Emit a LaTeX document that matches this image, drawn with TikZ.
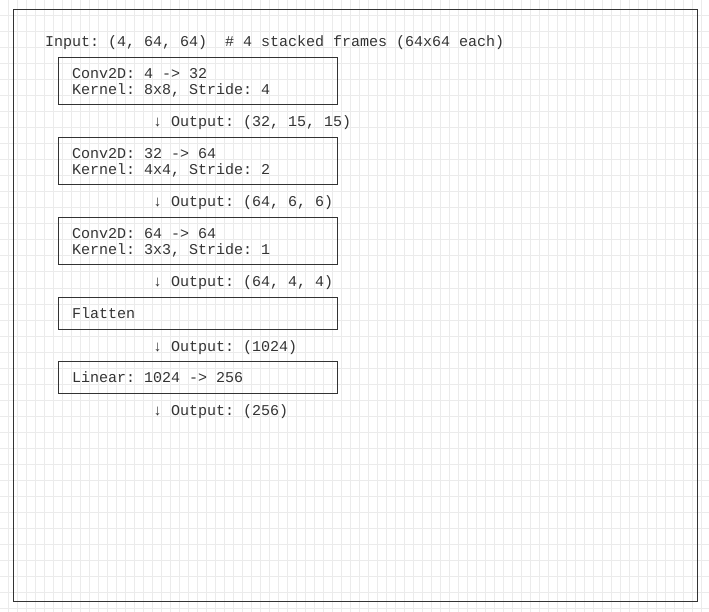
\documentclass[tikz,border=0pt]{standalone}
\usepackage{fontspec}
\setmainfont{Liberation Mono}
\definecolor{gridc}{HTML}{EBEBEB}
\definecolor{ink}{HTML}{333333}
\begin{document}
\frenchspacing
\begin{tikzpicture}[x=1pt,y=-1pt,
  txt/.style={anchor=base west,inner sep=0pt,outer sep=0pt,text=ink,font=\fontsize{15}{16}\selectfont\frenchspacing},
  layerbox/.style={draw=ink,line width=1pt,minimum width=279pt,inner sep=0pt,outer sep=0pt,anchor=north west},
  twoline/.style={layerbox,minimum height=47.5pt},
  oneline/.style={layerbox,minimum height=32pt}]
\useasboundingbox (0,0) rectangle (709,612);
\fill[white] (0,0) rectangle (709,612);
% grid
\foreach \k in {0,...,77} \draw[gridc,line width=1pt] (8.5+9*\k,0) -- (8.5+9*\k,612);
\foreach \k in {0,...,38} \draw[gridc,line width=1pt] (0,16*\k) -- (709,16*\k);
% frame
\node[draw=ink,line width=1pt,minimum width=684pt,minimum height=592pt,inner sep=0pt,outer sep=0pt,anchor=north west] (frame) at (13.3,9.3) {};
% title
\node[txt] (inp) at (45,47) {Input: (4, 64, 64)\ \ \# 4 stacked frames (64x64 each)};
% layer 1
\node[twoline] (b1) at (58.5,57.5) {};
\node[txt] (b1a) at (72,78.3) {Conv2D: 4 -> 32};
\node[txt] (b1b) at (72,94.3) {Kernel: 8x8, Stride: 4};
\node[txt] (o1) at (153,127) {↓ Output: (32, 15, 15)};
% layer 2
\node[twoline] (b2) at (58.5,137.5) {};
\node[txt] (b2a) at (72,158.3) {Conv2D: 32 -> 64};
\node[txt] (b2b) at (72,174.3) {Kernel: 4x4, Stride: 2};
\node[txt] (o2) at (153,207) {↓ Output: (64, 6, 6)};
% layer 3
\node[twoline] (b3) at (58.5,217.5) {};
\node[txt] (b3a) at (72,238.3) {Conv2D: 64 -> 64};
\node[txt] (b3b) at (72,254.3) {Kernel: 3x3, Stride: 1};
\node[txt] (o3) at (153,287) {↓ Output: (64, 4, 4)};
% flatten
\node[oneline] (b4) at (58.5,297.5) {};
\node[txt] (b4a) at (72,318.3) {Flatten};
\node[txt] (o4) at (153,351) {↓ Output: (1024)};
% linear
\node[oneline] (b5) at (58.5,361.5) {};
\node[txt] (b5a) at (72,382.3) {Linear: 1024 -> 256};
\node[txt] (o5) at (153,415) {↓ Output: (256)};
\end{tikzpicture}
\end{document}
